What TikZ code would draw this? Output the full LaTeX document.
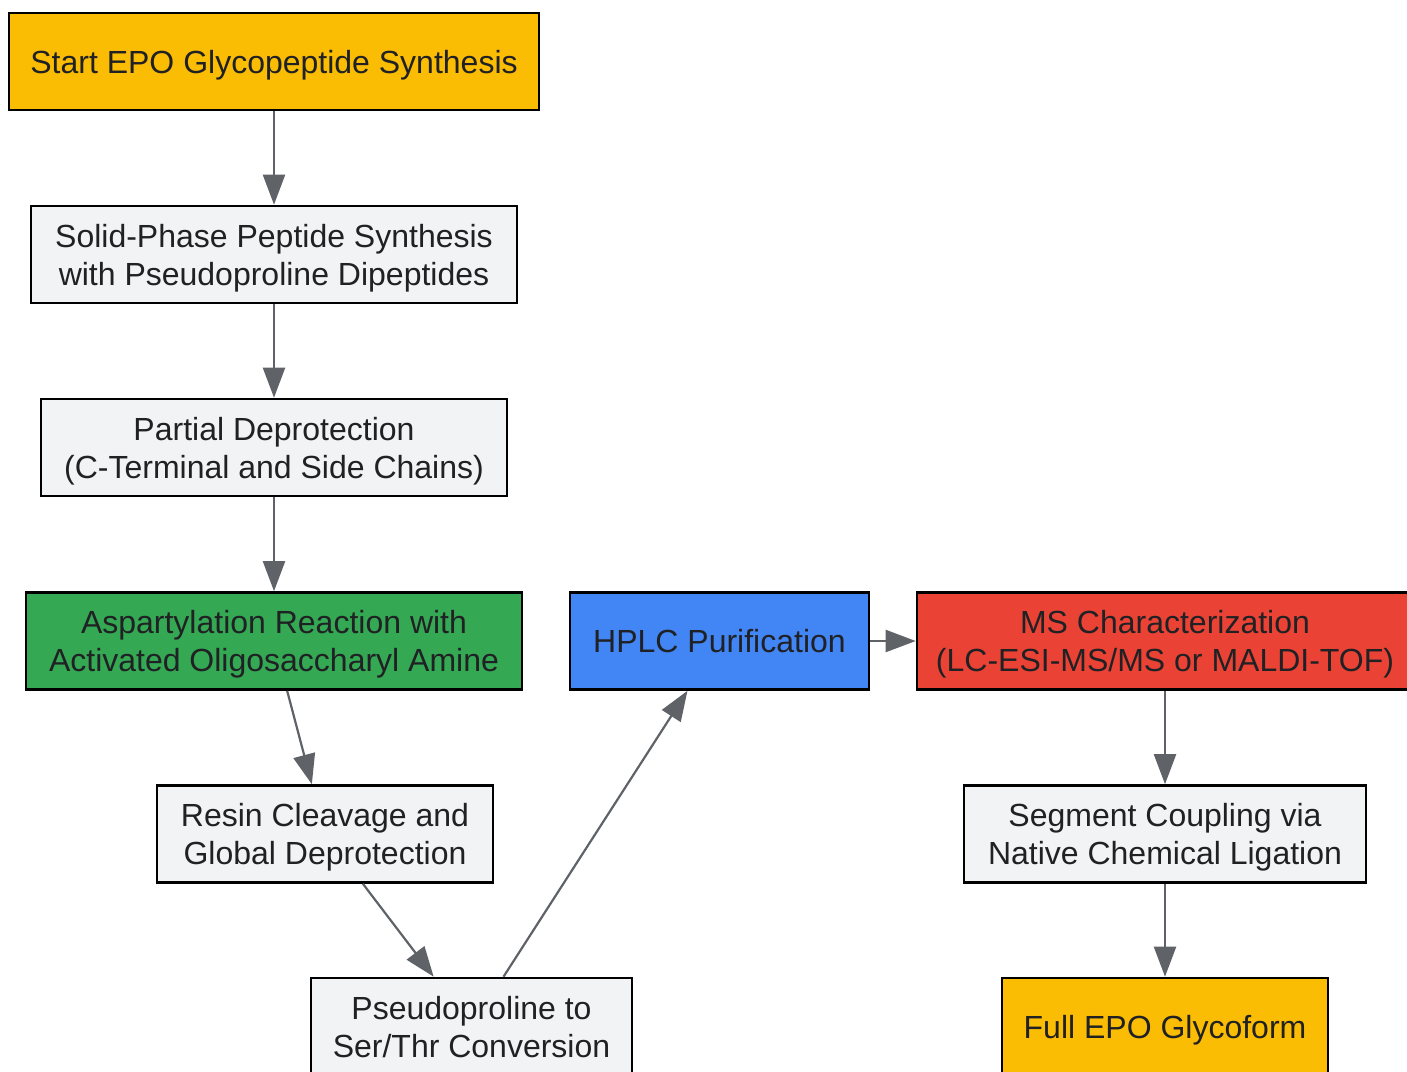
\documentclass[tikz,border=0pt]{standalone}
\usepackage{fontspec}
\setmainfont{Liberation Sans}
\usetikzlibrary{arrows.meta}
\newcommand{\unitsize}{0.5pt}
\definecolor{startyellow}{HTML}{FBBC04}
\definecolor{stepgray}{HTML}{F1F3F4}
\definecolor{reactgreen}{HTML}{34A853}
\definecolor{purifyblue}{HTML}{4285F4}
\definecolor{msred}{HTML}{EA4335}
\definecolor{edgegray}{HTML}{5F6368}
\definecolor{textdark}{HTML}{202124}

\begin{document}
\begin{tikzpicture}[x=\unitsize,y=-\unitsize]
\useasboundingbox (0,0) rectangle (1407,1071);
\clip (0,0) rectangle (1407,1071);
\tikzstyle{every node}=[draw=black,
                        rectangle,
                        line width=1.3pt,
                        fill=stepgray,
                        text=textdark,
                        align=center,
                        inner sep=0pt,
                        text depth=0pt,
                        minimum height=97*\unitsize,
                        font=\fontsize{16}{19}\selectfont
                        ]
\tikzstyle{flow}=[draw=edgegray, line width=1.1pt, -{Triangle[length=15pt,width=11pt]}]
% left column
\node[fill=startyellow, minimum width=530*\unitsize] (start) at (274,61.5) {Start EPO Glycopeptide Synthesis};
\node[minimum width=486*\unitsize] (spps) at (274,254.5) {Solid-Phase Peptide Synthesis\\with Pseudoproline Dipeptides};
\node[minimum width=466*\unitsize] (partial) at (274,447.5) {Partial Deprotection\\(C-Terminal and Side Chains)};
\node[fill=reactgreen, minimum width=496*\unitsize] (aspart) at (274,641) {Aspartylation Reaction with\\Activated Oligosaccharyl Amine};
\node[minimum width=336*\unitsize] (cleave) at (325,834) {Resin Cleavage and\\Global Deprotection};
\node[minimum width=321*\unitsize] (convert) at (471.5,1026.5) {Pseudoproline to\\Ser/Thr Conversion};
% right part
\node[fill=purifyblue, minimum width=299*\unitsize] (hplc) at (719.5,641) {HPLC Purification};
\node[fill=msred, minimum width=496*\unitsize] (mschar) at (1165,641) {MS Characterization\\(LC-ESI-MS/MS or MALDI-TOF)};
\node[minimum width=402*\unitsize] (ligate) at (1165,834) {Segment Coupling via\\Native Chemical Ligation};
\node[fill=startyellow, minimum width=326*\unitsize] (full) at (1165,1026.5) {Full EPO Glycoform};
% connectors
\draw[flow] (start) -- (spps);
\draw[flow] (spps) -- (partial);
\draw[flow] (partial) -- (aspart);
\draw[flow] (aspart) -- (cleave);
\draw[flow] (cleave) -- (convert);
\draw[flow] (convert) -- (hplc);
\draw[flow] (hplc) -- (mschar);
\draw[flow] (mschar) -- (ligate);
\draw[flow] (ligate) -- (full);
\end{tikzpicture}
\end{document}
